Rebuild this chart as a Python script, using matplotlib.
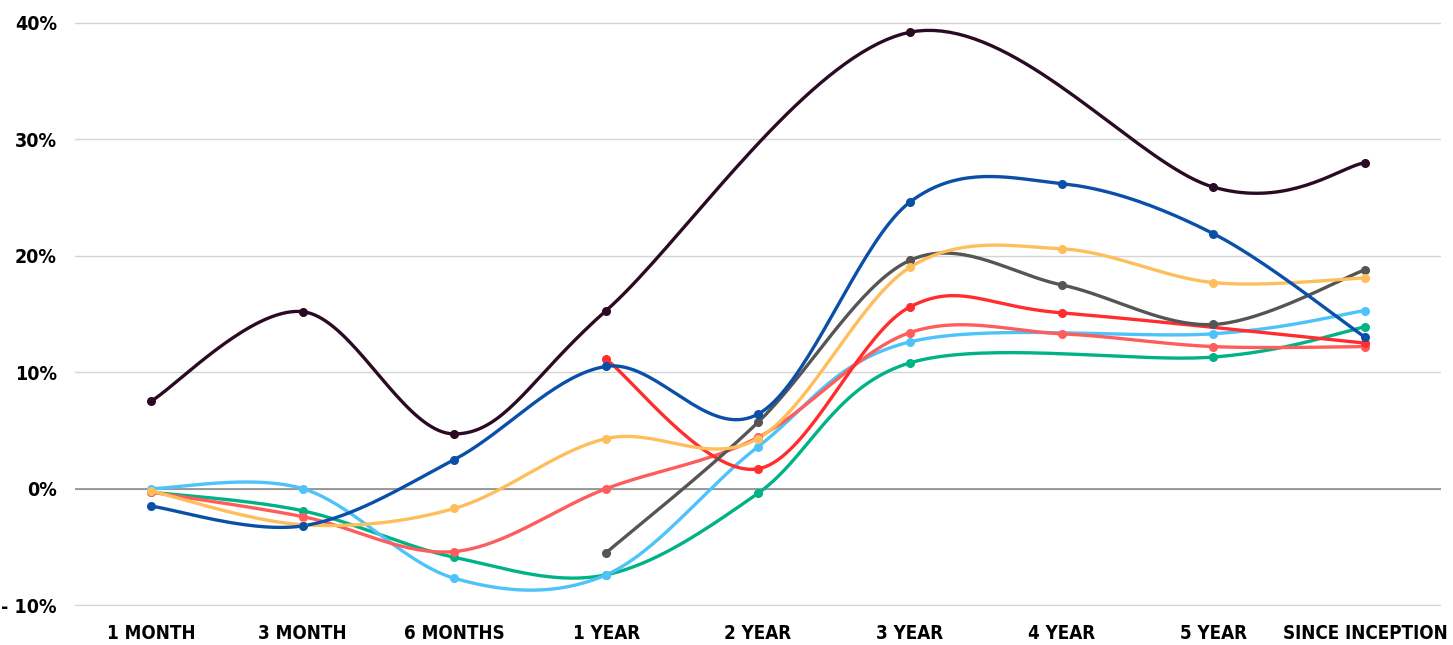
import numpy as np
import matplotlib
matplotlib.use('Agg')
import matplotlib.pyplot as plt
from matplotlib.ticker import FuncFormatter

plt.rcParams['font.family'] = ['DejaVu Sans']
plt.rcParams['font.stretch'] = 'condensed'

# categories and series (percent), None = no value
periods = ['1 MONTH', '3 MONTH', '6 MONTHS', '1 YEAR', '2 YEAR', '3 YEAR', '4 YEAR', '5 YEAR', 'SINCE INCEPTION']

green = [-0.3, -1.9, -5.9, -7.4, -0.4, 10.8, None, 11.3, 13.9]
light_blue = [0.0, 0.0, -7.7, -7.4, 3.6, 12.6, None, 13.3, 15.3]
salmon = [-0.3, -2.4, -5.4, 0.0, 4.4, 13.4, 13.3, 12.2, 12.2]
red = [None, None, None, 11.1, 1.7, 15.6, 15.1, None, 12.5]
grey = [None, None, None, -5.5, 5.7, 19.6, 17.5, 14.1, 18.8]
yellow = [-0.2, -3.1, -1.7, 4.3, 4.3, 19.0, 20.6, 17.7, 18.1]
blue = [-1.5, -3.2, 2.5, 10.5, 6.4, 24.6, 26.2, 21.9, 13.0]
dark = [7.5, 15.2, 4.7, 15.3, None, 39.2, None, 25.9, 28.0]

series = [
    (green, '#00b386'),
    (light_blue, '#4dc3fa'),
    (salmon, '#ff5c5c'),
    (red, '#ff2d2d'),
    (grey, '#555555'),
    (yellow, '#ffbe5c'),
    (blue, '#0a4fa8'),
    (dark, '#2b0a24'),
]


def smooth(xs, ys, n=40):
    # catmull-rom style bezier like a spreadsheet "smoothed line"
    xs = np.asarray(xs, float)
    ys = np.asarray(ys, float)
    if len(xs) < 3:
        return xs, ys
    px, py = [], []
    for i in range(len(xs) - 1):
        x0, y0 = (xs[i - 1], ys[i - 1]) if i > 0 else (xs[i], ys[i])
        x1, y1 = xs[i], ys[i]
        x2, y2 = xs[i + 1], ys[i + 1]
        x3, y3 = (xs[i + 2], ys[i + 2]) if i + 2 < len(xs) else (x2, y2)
        c1 = (x1 + (x2 - x0) / 6, y1 + (y2 - y0) / 6)
        c2 = (x2 - (x3 - x1) / 6, y2 - (y3 - y1) / 6)
        t = np.linspace(0, 1, n)
        bx = (1 - t)**3 * x1 + 3 * (1 - t)**2 * t * c1[0] + 3 * (1 - t) * t**2 * c2[0] + t**3 * x2
        by = (1 - t)**3 * y1 + 3 * (1 - t)**2 * t * c1[1] + 3 * (1 - t) * t**2 * c2[1] + t**3 * y2
        px.extend(bx)
        py.extend(by)
    return np.array(px), np.array(py)


fig = plt.figure(figsize=(14.53, 6.45), dpi=100)
ax = fig.add_axes([75 / 1453, 39 / 645, 1366 / 1453, 584 / 645])

for vals, col in series:
    xs = [i for i, v in enumerate(vals) if v is not None]
    ys = [v for v in vals if v is not None]
    sx, sy = smooth(xs, ys)
    ax.plot(sx, sy, color=col, lw=2.4, solid_capstyle='round', zorder=3)
    ax.plot(xs, ys, 'o', color=col, ms=5.5, zorder=4)

ax.set_xlim(-0.5, len(periods) - 0.5)
ax.set_ylim(-10.08, 40.08)
ax.set_yticks(range(-10, 41, 10))
ax.yaxis.set_major_formatter(FuncFormatter(lambda v, p: '%d%%' % v if v >= 0 else '- %d%%' % abs(v)))
ax.set_xticks(range(len(periods)))
ax.set_xticklabels(periods)

for s in ax.spines.values():
    s.set_visible(False)
ax.grid(axis='y', color='#d4d4d4', lw=1)
ax.axhline(0, color='#8c8c8c', lw=1.2, zorder=2)
ax.set_axisbelow(True)
ax.tick_params(axis='both', length=0)
ax.tick_params(axis='y', pad=13)
ax.tick_params(axis='x', pad=13)
for lab in ax.get_xticklabels():
    lab.set_fontsize(13.5)
    lab.set_fontweight('bold')
    lab.set_fontstretch('condensed')
for lab in ax.get_yticklabels():
    lab.set_fontsize(14)
    lab.set_fontweight('bold')
    lab.set_fontstretch('condensed')

fig.savefig('out.png', dpi=100)
